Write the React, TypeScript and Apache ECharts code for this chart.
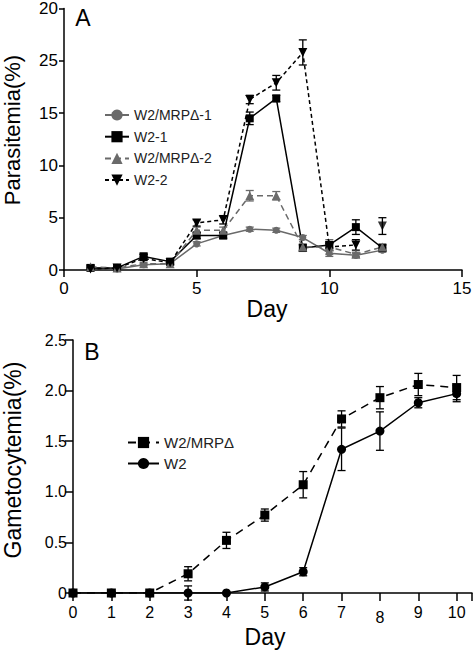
import React, { useEffect, useRef } from "react";
import * as echarts from "echarts";

// Panel A
const daysA = [1, 2, 3, 4, 5, 6, 7, 8, 9, 10, 11, 12];
const mrp1 = [0.2, 0.1, 0.5, 0.6, 2.5, 3.3, 3.9, 3.8, 3.1, 1.6, 1.4, 1.9];
const mrp1Err = [0.1, 0.1, 0.1, 0.1, 0.2, 0.2, 0.2, 0.2, 0.2, 0.3, 0.2, 0.2];
const w21 = [0.2, 0.2, 1.3, 0.8, 3.3, 3.3, 14.5, 16.4, 2.1, 2.4, 4.1, 2.1];
const w21Err = [0.1, 0.1, 0.3, 0.2, 0.3, 0.3, 0.6, 0.3, 0.3, 0.3, 0.7, 0.3];
const mrp2 = [0.3, 0.2, 0.6, 0.6, 3.8, 3.8, 7.1, 7.1, 2.2, 2.2, 1.5, 2.2];
const mrp2Err = [0.1, 0.1, 0.1, 0.1, 0.3, 0.3, 0.5, 0.4, 0.3, 0.7, 0.2, 0.3];
const w22 = [0.1, 0.2, 1.1, 0.7, 4.5, 4.8, 16.3, 17.9, 20.8, 2.2, 2.4, 4.2];
const w22Err = [0.1, 0.1, 0.2, 0.2, 0.3, 0.4, 0.4, 0.7, 1.2, 0.3, 0.5, 0.8];
const w22LastJoinedDay = 11; // the day-12 point of W2-2 is not joined by a line
const yTickLabelsA = ["0", "5", "10", "15", "25", "20"];
const namesA = ["W2/MRPΔ-1", "W2-1", "W2/MRPΔ-2", "W2-2"];

// Panel B
const daysB = [0, 1, 2, 3, 4, 5, 6, 7, 8, 9, 10];
const mrpB = [0, 0, 0, 0.19, 0.52, 0.77, 1.07, 1.72, 1.93, 2.06, 2.03];
const mrpBErr = [0, 0, 0, 0.07, 0.08, 0.06, 0.13, 0.08, 0.11, 0.11, 0.12];
const w2B = [0, 0, 0, 0, 0, 0.06, 0.21, 1.42, 1.6, 1.88, 1.97];
const w2BErr = [0, 0, 0, 0.07, 0, 0.04, 0.04, 0.21, 0.19, 0.05, 0.08];
const namesB = ["W2/MRPΔ", "W2"];

const FONT = "Liberation Sans, Arial, Helvetica, sans-serif";
const GRAY = "#6a6a6a";

function errSeries(xs: number[], ys: number[], es: number[], axis: number, color: string) {
  const data = xs
    .map((x, i) => [x, ys[i] - es[i], ys[i] + es[i], es[i]])
    .filter((d) => d[3] > 0);
  return {
    type: "custom",
    xAxisIndex: axis,
    yAxisIndex: axis,
    z: 1,
    silent: true,
    data,
    encode: { x: 0, y: [1, 2] },
    renderItem: (params: any, api: any) => {
      const x = api.value(0);
      const p1 = api.coord([x, api.value(1)]);
      const p2 = api.coord([x, api.value(2)]);
      const w = 4;
      const st = { stroke: color, lineWidth: 1.3, fill: "none" };
      return {
        type: "group",
        children: [
          { type: "line", shape: { x1: p1[0], y1: p1[1], x2: p2[0], y2: p2[1] }, style: st },
          { type: "line", shape: { x1: p1[0] - w, y1: p1[1], x2: p1[0] + w, y2: p1[1] }, style: st },
          { type: "line", shape: { x1: p2[0] - w, y1: p2[1], x2: p2[0] + w, y2: p2[1] }, style: st },
        ],
      };
    },
  };
}

function lineSeries(
  name: string,
  xs: number[],
  ys: number[],
  axis: number,
  color: string,
  symbol: string,
  size: number,
  dashed: any,
  rotate = 0
) {
  return {
    name,
    type: "line",
    xAxisIndex: axis,
    yAxisIndex: axis,
    z: 3,
    data: xs.map((x, i) => [x, ys[i]]),
    symbol,
    symbolSize: size,
    symbolRotate: rotate,
    showAllSymbol: true,
    itemStyle: { color, borderWidth: 0 },
    lineStyle: { color, width: 1.5, type: dashed },
  };
}

const axisCommon = {
  axisLine: { show: true, lineStyle: { color: "#000", width: 1.5 } },
  splitLine: { show: false },
};

export default function App() {
  const ref = useRef<HTMLDivElement>(null);
  useEffect(() => {
    if (!ref.current) return;
    const chart = echarts.init(ref.current, undefined, { renderer: "svg" });
    const joinedIdx = daysA.filter((d) => d <= w22LastJoinedDay).length;
    const w22Line = lineSeries(
      namesA[3],
      daysA.slice(0, joinedIdx),
      w22.slice(0, joinedIdx),
      0,
      "#000",
      "triangle",
      9,
      [4, 3],
      180
    );
    const w22Rest = {
      name: namesA[3],
      type: "scatter",
      xAxisIndex: 0,
      yAxisIndex: 0,
      z: 3,
      symbol: "triangle",
      symbolSize: 9,
      symbolRotate: 180,
      itemStyle: { color: "#000" },
      data: daysA.slice(joinedIdx).map((d, i) => [d, w22[joinedIdx + i]]),
    };
    chart.setOption({
      animation: false,
      backgroundColor: "#fff",
      textStyle: { fontFamily: FONT },
      grid: [
        { left: 64, right: 13, top: 8, bottom: 382 },
        { left: 73, right: 0, top: 340, bottom: 59 },
      ],
      xAxis: [
        {
          gridIndex: 0,
          type: "value",
          min: 0,
          max: 15,
          interval: 5,
          ...axisCommon,
          axisTick: { show: true, length: 7, lineStyle: { color: "#000", width: 1.5 } },
          axisLabel: { color: "#000", fontSize: 17, margin: 10, fontFamily: FONT },
        },
        {
          gridIndex: 1,
          type: "value",
          min: 0,
          max: 10.4,
          interval: 1,
          ...axisCommon,
          axisTick: { show: true, length: 8, lineStyle: { color: "#000", width: 1.5 } },
          axisLabel: {
            color: "#000",
            fontSize: 16,
            margin: 11,
            fontFamily: FONT,
            formatter: (v: number) => (Number.isInteger(v) ? (v === 8 ? "{low|8}" : String(v)) : ""),
            rich: { low: { fontSize: 16, color: "#000", fontFamily: FONT, padding: [5, 0, 0, 0] } },
          },
        },
      ],
      yAxis: [
        {
          gridIndex: 0,
          type: "value",
          min: 0,
          max: 25,
          interval: 5,
          ...axisCommon,
          axisTick: { show: true, length: 5, lineStyle: { color: "#000", width: 1.5 } },
          axisLabel: {
            color: "#000",
            fontSize: 17,
            margin: 6,
            fontFamily: FONT,
            formatter: (v: number) => yTickLabelsA[Math.round(v / 5)] ?? "",
          },
        },
        {
          gridIndex: 1,
          type: "value",
          min: 0,
          max: 2.5,
          interval: 0.5,
          ...axisCommon,
          axisTick: { show: true, length: 8, lineStyle: { color: "#000", width: 1.5 } },
          axisLabel: {
            color: "#000",
            fontSize: 16,
            margin: 6,
            fontFamily: FONT,
            formatter: (v: number) => (v === 0 ? "0" : v.toFixed(1)),
          },
        },
      ],
      legend: [
        {
          data: namesA,
          orient: "vertical",
          left: 99,
          top: 103,
          itemWidth: 24,
          itemHeight: 14,
          itemGap: 7.7,
          textStyle: { fontSize: 14, color: "#222", fontFamily: FONT, lineHeight: 14 },
        },
        {
          data: namesB,
          orient: "vertical",
          left: 122,
          top: 430,
          itemWidth: 31,
          itemHeight: 14,
          itemGap: 6,
          textStyle: { fontSize: 15, color: "#222", fontFamily: FONT, lineHeight: 14 },
        },
      ],
      graphic: [
        { type: "text", x: 83, y: 18, style: { text: "A", font: `23px ${FONT}`, fill: "#000", align: "center", verticalAlign: "middle" } },
        { type: "text", x: 92, y: 352, style: { text: "B", font: `23px ${FONT}`, fill: "#000", align: "center", verticalAlign: "middle" } },
        { type: "text", x: 12, y: 130, rotation: Math.PI / 2, style: { text: "Parasitemia(%)", font: `22px ${FONT}`, fill: "#000", align: "center", verticalAlign: "middle" } },
        { type: "text", x: 13, y: 460, rotation: Math.PI / 2, style: { text: "Gametocytemia(%)", font: `23px ${FONT}`, fill: "#000", align: "center", verticalAlign: "middle" } },
        { type: "text", x: 267, y: 309, style: { text: "Day", font: `23px ${FONT}`, fill: "#000", align: "center", verticalAlign: "middle" } },
        { type: "text", x: 265, y: 637, style: { text: "Day", font: `23px ${FONT}`, fill: "#000", align: "center", verticalAlign: "middle" } },
      ],
      series: [
        errSeries(daysA, mrp1, mrp1Err, 0, GRAY),
        errSeries(daysA, w21, w21Err, 0, "#000"),
        errSeries(daysA, mrp2, mrp2Err, 0, GRAY),
        errSeries(daysA, w22, w22Err, 0, "#000"),
        lineSeries(namesA[0], daysA, mrp1, 0, GRAY, "circle", 7, "solid"),
        lineSeries(namesA[1], daysA, w21, 0, "#000", "rect", 8, "solid"),
        lineSeries(namesA[2], daysA, mrp2, 0, GRAY, "triangle", 9, [6, 4]),
        w22Line,
        w22Rest,
        errSeries(daysB, mrpB, mrpBErr, 1, "#000"),
        errSeries(daysB, w2B, w2BErr, 1, "#000"),
        lineSeries(namesB[0], daysB, mrpB, 1, "#000", "rect", 9, [8, 6]),
        lineSeries(namesB[1], daysB, w2B, 1, "#000", "circle", 9, "solid"),
      ],
    });
    return () => chart.dispose();
  }, []);
  return (
    <div
      ref={ref}
      style={{ position: "fixed", left: 0, top: 0, width: 475, height: 652, background: "#fff" }}
    />
  );
}
